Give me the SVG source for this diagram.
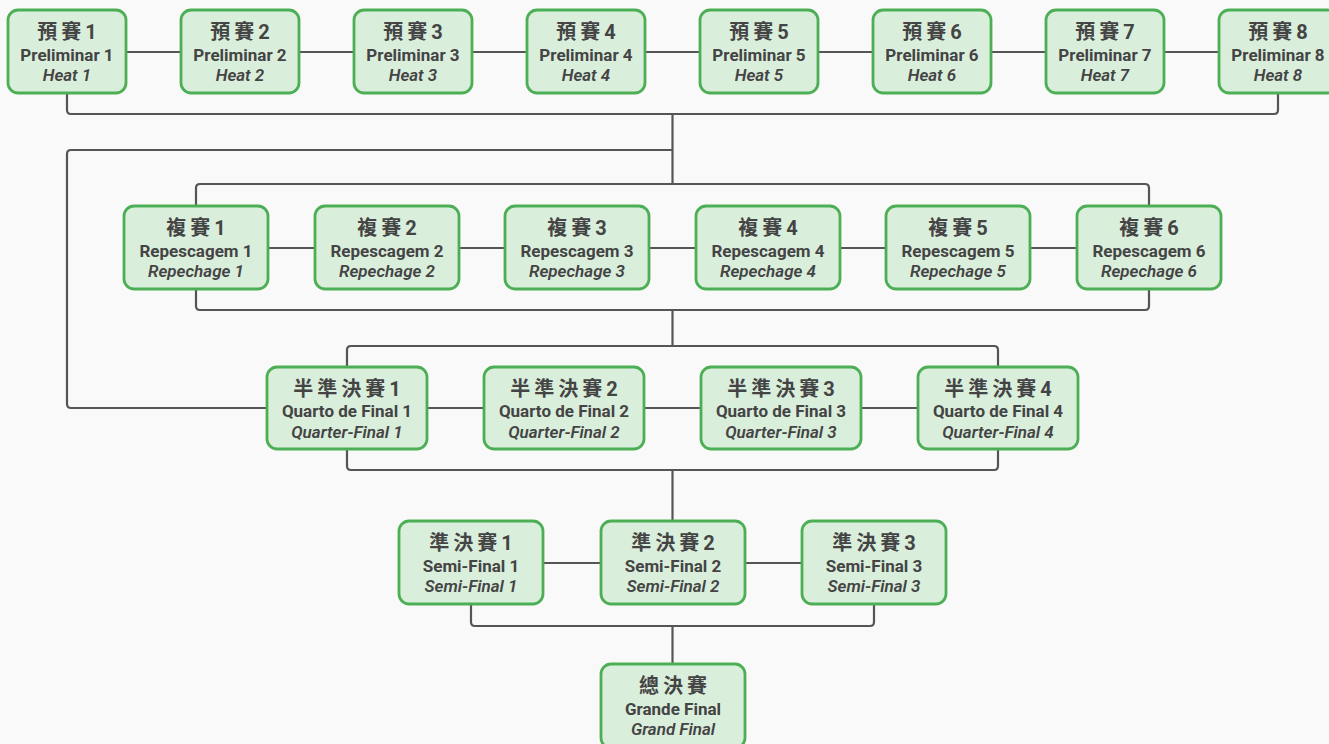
<svg xmlns="http://www.w3.org/2000/svg" width="1329" height="744" viewBox="0 0 1329 744">
<style>
.bg{fill:#f9f9f9}
.box rect{fill:#daeedc;stroke:#4daf55;stroke-width:2.8}
.box text{text-anchor:middle;fill:#444;font-family:Roboto,"Noto Sans","Noto Sans CJK TC",sans-serif}
.t1{font-family:"Noto Sans CJK TC",Roboto,sans-serif;font-size:20px;font-weight:700;letter-spacing:4px}
.t2{font-size:17px;font-weight:700}
.t3{font-size:17px;font-weight:600;font-style:italic}
.conn path,.conn line{fill:none;stroke:#555;stroke-width:2.2}
</style>
<rect class="bg" x="0" y="0" width="1329" height="744"/>
<g id="connectors" class="conn">
<line x1="67" y1="52" x2="1278" y2="52"/>
<path d="M67,93 V110 Q67,114 71,114 H1274 Q1278,114 1278,110 V93"/>
<line x1="672.5" y1="114" x2="672.5" y2="184"/>
<path d="M672.5,150 H71 Q67,150 67,154 V404 Q67,408 71,408 H267"/>
<path d="M196,206 V188 Q196,184 200,184 H1145 Q1149,184 1149,188 V206"/>
<line x1="196" y1="248" x2="1149" y2="248"/>
<path d="M196,289 V306 Q196,310 200,310 H1145 Q1149,310 1149,306 V289"/>
<line x1="672.5" y1="310" x2="672.5" y2="346"/>
<path d="M347,367 V350 Q347,346 351,346 H994 Q998,346 998,350 V367"/>
<line x1="347" y1="408" x2="998" y2="408"/>
<path d="M347,449 V466 Q347,470 351,470 H994 Q998,470 998,466 V449"/>
<line x1="672.5" y1="470" x2="672.5" y2="521"/>
<line x1="471" y1="563" x2="874" y2="563"/>
<path d="M471,604 V622 Q471,626 475,626 H870 Q874,626 874,622 V604"/>
<line x1="672.5" y1="626" x2="672.5" y2="664"/>
</g>
<g id="heat1" class="box"><rect x="8" y="10" width="118" height="83" rx="10"/><text class="t1" x="69" y="39">預賽1</text><text class="t2" x="67" y="61">Preliminar 1</text><text class="t3" x="67" y="81">Heat 1</text></g>
<g id="heat2" class="box"><rect x="181" y="10" width="118" height="83" rx="10"/><text class="t1" x="242" y="39">預賽2</text><text class="t2" x="240" y="61">Preliminar 2</text><text class="t3" x="240" y="81">Heat 2</text></g>
<g id="heat3" class="box"><rect x="354" y="10" width="118" height="83" rx="10"/><text class="t1" x="415" y="39">預賽3</text><text class="t2" x="413" y="61">Preliminar 3</text><text class="t3" x="413" y="81">Heat 3</text></g>
<g id="heat4" class="box"><rect x="527" y="10" width="118" height="83" rx="10"/><text class="t1" x="588" y="39">預賽4</text><text class="t2" x="586" y="61">Preliminar 4</text><text class="t3" x="586" y="81">Heat 4</text></g>
<g id="heat5" class="box"><rect x="700" y="10" width="118" height="83" rx="10"/><text class="t1" x="761" y="39">預賽5</text><text class="t2" x="759" y="61">Preliminar 5</text><text class="t3" x="759" y="81">Heat 5</text></g>
<g id="heat6" class="box"><rect x="873" y="10" width="118" height="83" rx="10"/><text class="t1" x="934" y="39">預賽6</text><text class="t2" x="932" y="61">Preliminar 6</text><text class="t3" x="932" y="81">Heat 6</text></g>
<g id="heat7" class="box"><rect x="1046" y="10" width="118" height="83" rx="10"/><text class="t1" x="1107" y="39">預賽7</text><text class="t2" x="1105" y="61">Preliminar 7</text><text class="t3" x="1105" y="81">Heat 7</text></g>
<g id="heat8" class="box"><rect x="1219" y="10" width="118" height="83" rx="10"/><text class="t1" x="1280" y="39">預賽8</text><text class="t2" x="1278" y="61">Preliminar 8</text><text class="t3" x="1278" y="81">Heat 8</text></g>
<g id="rep1" class="box"><rect x="124" y="206" width="144" height="83" rx="10"/><text class="t1" x="198" y="235">複賽1</text><text class="t2" x="196" y="257">Repescagem 1</text><text class="t3" x="196" y="277">Repechage 1</text></g>
<g id="rep2" class="box"><rect x="315" y="206" width="144" height="83" rx="10"/><text class="t1" x="389" y="235">複賽2</text><text class="t2" x="387" y="257">Repescagem 2</text><text class="t3" x="387" y="277">Repechage 2</text></g>
<g id="rep3" class="box"><rect x="505" y="206" width="144" height="83" rx="10"/><text class="t1" x="579" y="235">複賽3</text><text class="t2" x="577" y="257">Repescagem 3</text><text class="t3" x="577" y="277">Repechage 3</text></g>
<g id="rep4" class="box"><rect x="696" y="206" width="144" height="83" rx="10"/><text class="t1" x="770" y="235">複賽4</text><text class="t2" x="768" y="257">Repescagem 4</text><text class="t3" x="768" y="277">Repechage 4</text></g>
<g id="rep5" class="box"><rect x="886" y="206" width="144" height="83" rx="10"/><text class="t1" x="960" y="235">複賽5</text><text class="t2" x="958" y="257">Repescagem 5</text><text class="t3" x="958" y="277">Repechage 5</text></g>
<g id="rep6" class="box"><rect x="1077" y="206" width="144" height="83" rx="10"/><text class="t1" x="1151" y="235">複賽6</text><text class="t2" x="1149" y="257">Repescagem 6</text><text class="t3" x="1149" y="277">Repechage 6</text></g>
<g id="qf1" class="box"><rect x="267" y="367" width="160" height="82" rx="10"/><text class="t1" x="349" y="396">半準決賽1</text><text class="t2" x="347" y="417">Quarto de Final 1</text><text class="t3" x="347" y="438">Quarter-Final 1</text></g>
<g id="qf2" class="box"><rect x="484" y="367" width="160" height="82" rx="10"/><text class="t1" x="566" y="396">半準決賽2</text><text class="t2" x="564" y="417">Quarto de Final 2</text><text class="t3" x="564" y="438">Quarter-Final 2</text></g>
<g id="qf3" class="box"><rect x="701" y="367" width="160" height="82" rx="10"/><text class="t1" x="783" y="396">半準決賽3</text><text class="t2" x="781" y="417">Quarto de Final 3</text><text class="t3" x="781" y="438">Quarter-Final 3</text></g>
<g id="qf4" class="box"><rect x="918" y="367" width="160" height="82" rx="10"/><text class="t1" x="1000" y="396">半準決賽4</text><text class="t2" x="998" y="417">Quarto de Final 4</text><text class="t3" x="998" y="438">Quarter-Final 4</text></g>
<g id="sf1" class="box"><rect x="399" y="521" width="144" height="83" rx="10"/><text class="t1" x="473" y="550">準決賽1</text><text class="t2" x="471" y="572">Semi-Final 1</text><text class="t3" x="471" y="592">Semi-Final 1</text></g>
<g id="sf2" class="box"><rect x="601" y="521" width="144" height="83" rx="10"/><text class="t1" x="675" y="550">準決賽2</text><text class="t2" x="673" y="572">Semi-Final 2</text><text class="t3" x="673" y="592">Semi-Final 2</text></g>
<g id="sf3" class="box"><rect x="802" y="521" width="144" height="83" rx="10"/><text class="t1" x="876" y="550">準決賽3</text><text class="t2" x="874" y="572">Semi-Final 3</text><text class="t3" x="874" y="592">Semi-Final 3</text></g>
<g id="final" class="box"><rect x="601" y="664" width="144" height="84" rx="10"/><text class="t1" x="675" y="693">總決賽</text><text class="t2" x="673" y="715">Grande Final</text><text class="t3" x="673" y="735">Grand Final</text></g>
</svg>
